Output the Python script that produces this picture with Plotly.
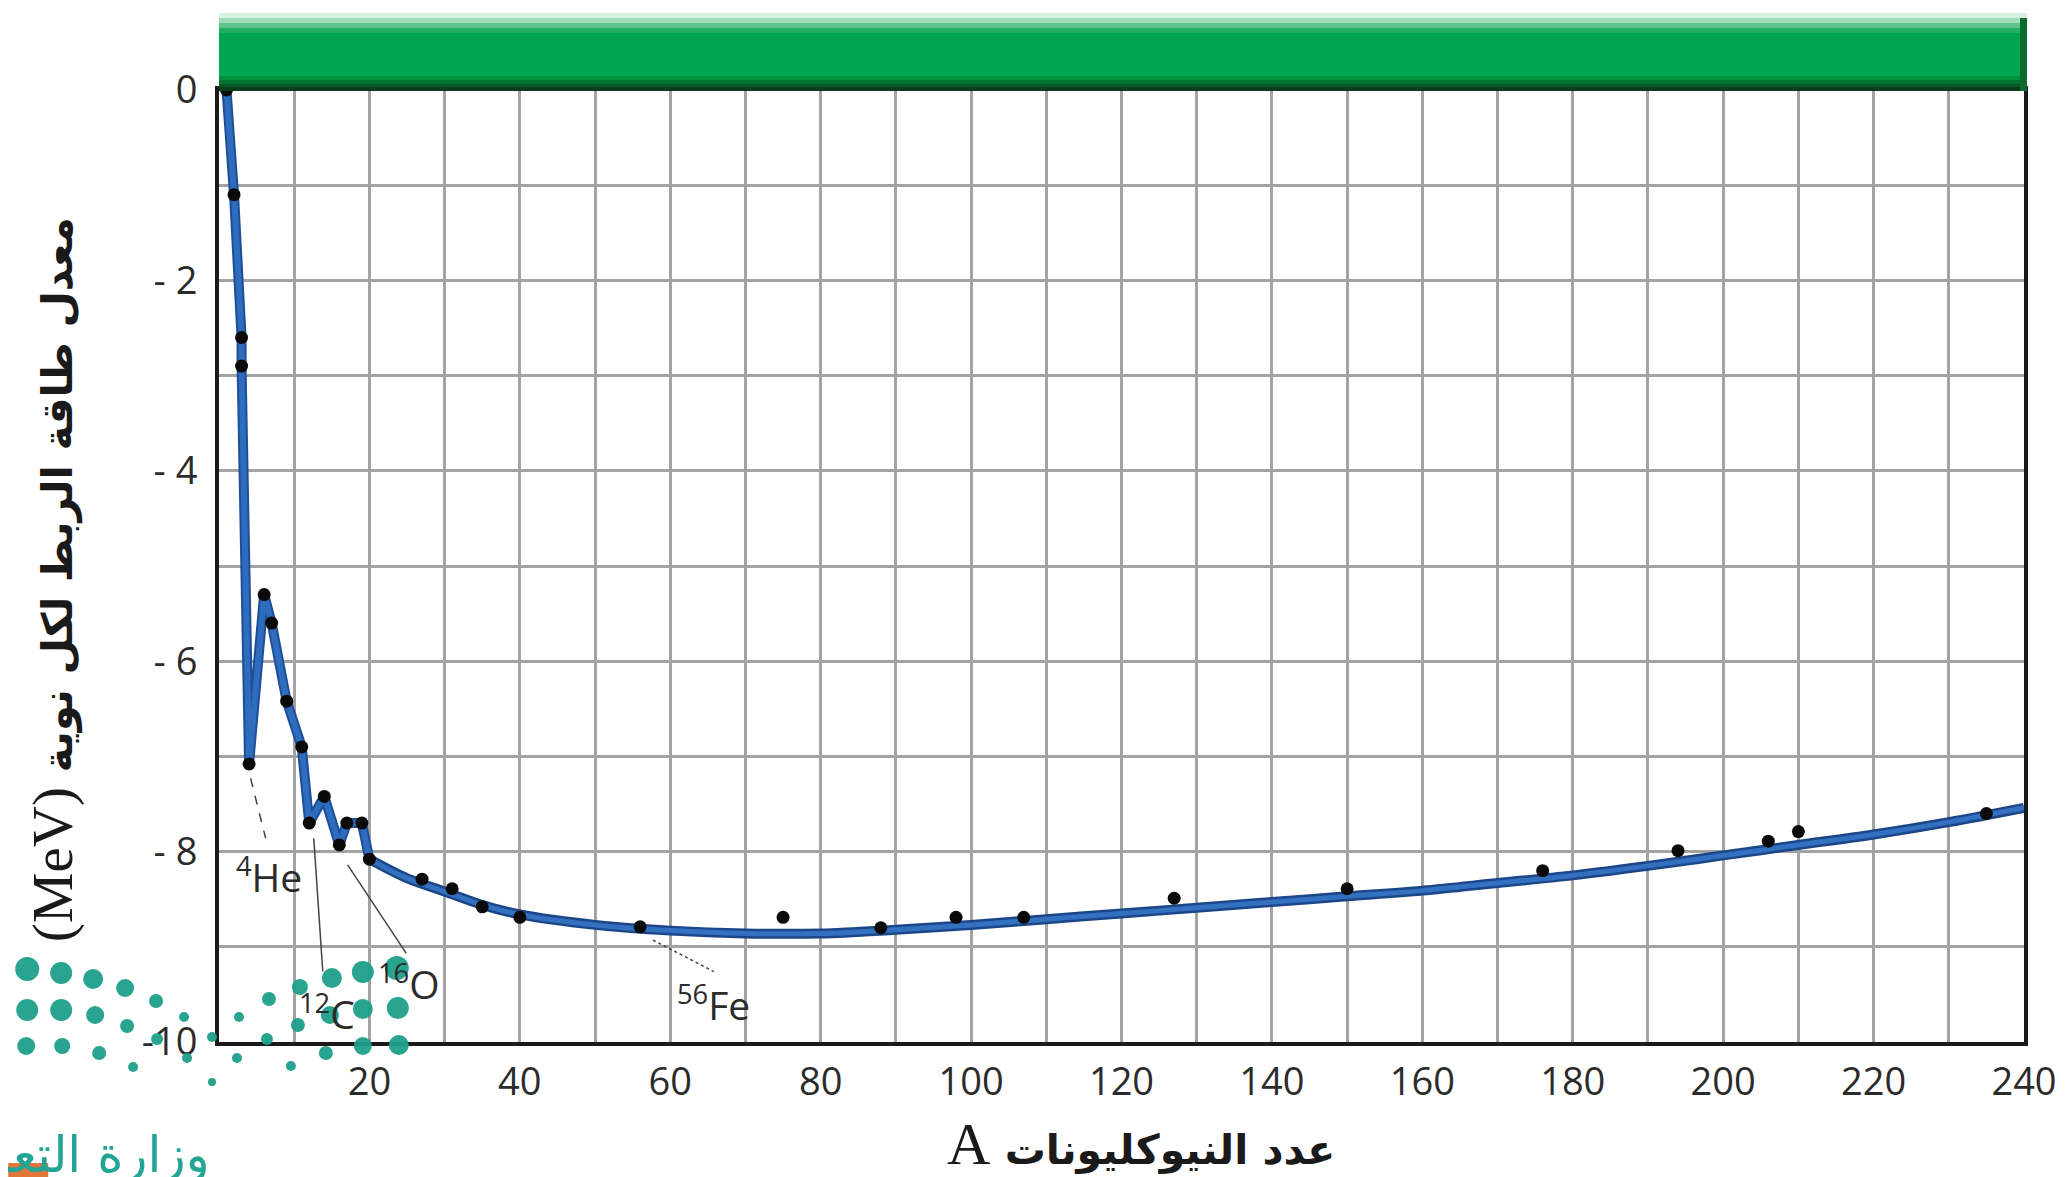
import plotly.graph_objects as go

# ---------------- data ----------------
# light nuclei (joined by the line)
light_A = [1, 2, 3, 3, 4, 6, 7, 9, 11, 12, 14, 16, 17, 19, 20]
light_E = [0.0, -1.1, -2.6, -2.9, -7.08, -5.3, -5.6, -6.42, -6.9, -7.7, -7.42, -7.93, -7.7, -7.7, -8.08]

# heavier nuclei (dots only)
heavy_A = [27, 31, 35, 40, 56, 75, 88, 98, 107, 127, 150, 176, 194, 206, 210, 235]
heavy_E = [-8.29, -8.39, -8.58, -8.69, -8.79, -8.69, -8.80, -8.69, -8.69, -8.49,
           -8.39, -8.20, -7.99, -7.89, -7.79, -7.60]

# smooth trend curve
curve_A = [20, 25, 30, 35, 40, 50, 60, 70, 80, 90, 100, 110, 120, 130, 140,
           150, 160, 170, 180, 190, 200, 210, 220, 230, 240]
curve_E = [-8.08, -8.28, -8.42, -8.56, -8.66, -8.77, -8.83, -8.86, -8.86, -8.82,
           -8.77, -8.71, -8.65, -8.59, -8.53, -8.47, -8.41, -8.33, -8.25, -8.15,
           -8.04, -7.93, -7.82, -7.69, -7.54]

# nuclide labels
label_text = ["<sup>4</sup>He", "<sup>12</sup>C", "<sup>16</sup>O", "<sup>56</sup>Fe"]
label_A = [6.7, 14.4, 25.2, 65.8]
label_E = [-8.25, -9.68, -9.37, -9.59]

# tick labels
x_tickvals = [20, 40, 60, 80, 100, 120, 140, 160, 180, 200, 220, 240]
x_ticktext = ["20", "40", "60", "80", "100", "120", "140", "160", "180", "200", "220", "240"]
x_minorvals = [10, 30, 50, 70, 90, 110, 130, 150, 170, 190, 210, 230]
y_tickvals = [0, -2, -4, -6, -8, -10]
y_ticktext = ["0", "- 2", "- 4", "- 6", "- 8", "-10"]
y_minorvals = [-1, -3, -5, -7, -9]

y_title = ('<span style="font-family:\'Liberation Serif\';font-size:57px;font-weight:normal">(MeV)</span>'
           ' معدل طاقة الربط لكل نوية')
x_title = ('<span style="font-family:\'Liberation Serif\';font-size:60px;font-weight:normal">A</span>'
           ' عدد النيوكليونات')

# ---------------- layout geometry ----------------
OFF = 8  # page body margin
W, H = 2069 - OFF, 1177 - OFF
L, R, T, B = 219 - OFF, 43, 90 - OFF, 135
PW, PH = W - L - R, H - T - B


def px(xp):
    return (xp - OFF - L) / PW


def py(yp):
    return (H - B - (yp - OFF)) / PH


fig = go.Figure()

# trend line (dark outer + lighter core)
fig.add_trace(go.Scatter(x=light_A, y=light_E, mode="lines",
                         line=dict(color="#1d4f99", width=10), hoverinfo="skip"))
fig.add_trace(go.Scatter(x=light_A, y=light_E, mode="lines",
                         line=dict(color="#2e6cbd", width=6), hoverinfo="skip"))
fig.add_trace(go.Scatter(x=curve_A, y=curve_E, mode="lines",
                         line=dict(color="#1b4688", width=10, shape="spline"), hoverinfo="skip"))
fig.add_trace(go.Scatter(x=curve_A, y=curve_E, mode="lines",
                         line=dict(color="#3470c0", width=5, shape="spline"), hoverinfo="skip"))

# data dots
fig.add_trace(go.Scatter(x=light_A + heavy_A, y=light_E + heavy_E, mode="markers",
                         marker=dict(color="#0a0a0a", size=13), cliponaxis=False))

shapes = []
# green band above the plot
band = [
    (13, 18, "#d8f1e3"), (18, 23, "#9fdcb8"), (23, 28, "#5cc58a"), (28, 33, "#22af64"),
    (33, 76, "#00a551"), (76, 80, "#00913f"), (80, 84, "#007532"),
    (84, 87, "#0b5a26"), (87, 91, "#0a3d19"),
]
for y0p, y1p, c in band:
    shapes.append(dict(type="rect", xref="paper", yref="paper",
                       x0=px(219), x1=px(2029), y0=py(y1p), y1=py(y0p),
                       fillcolor=c, line_width=0, layer="above"))
shapes.append(dict(type="rect", xref="paper", yref="paper",
                   x0=px(2022), x1=px(2029), y0=py(91), y1=py(18),
                   fillcolor="#0b6a2e", line_width=0, layer="above"))

# leader lines for labels
leaders = [
    (4.2, -7.23, 6.2, -7.86, "dash"),
    (12.6, -7.86, 13.8, -9.26, "solid"),
    (17.1, -8.14, 24.9, -9.07, "solid"),
    (57.7, -8.93, 65.8, -9.26, "dot"),
]
for x0, y0, x1, y1, d in leaders:
    shapes.append(dict(type="line", xref="x", yref="y", x0=x0, y0=y0, x1=x1, y1=y1,
                       line=dict(color="#444444", width=1.5, dash=d), layer="above"))

# watermark logo dots (decoration)
logo_dots = [
    (27, 969, 12), (61, 973, 11), (93, 979, 10), (125, 988, 9), (156, 1001, 7),
    (184, 1017, 5), (212, 1037, 5), (27, 1010, 11), (61, 1010, 11), (95, 1015, 9),
    (127, 1026, 7), (157, 1039, 6), (187, 1058, 5), (212, 1082, 4), (26, 1046, 9),
    (62, 1046, 8), (99, 1053, 7), (133, 1067, 5),
    (397, 968, 12), (363, 972, 11), (332, 978, 10), (300, 987, 8), (269, 999, 7),
    (239, 1017, 5), (398, 1008, 11), (363, 1009, 10), (330, 1015, 9), (298, 1025, 7),
    (267, 1039, 6), (237, 1058, 5), (399, 1045, 10), (363, 1046, 9), (326, 1053, 7),
    (291, 1066, 5),
]
for cx, cy, r in logo_dots:
    shapes.append(dict(type="circle", xref="paper", yref="paper",
                       x0=px(cx - r), x1=px(cx + r), y0=py(cy + r), y1=py(cy - r),
                       fillcolor="#1e9f8b", line_width=0, opacity=0.95, layer="above"))
shapes.append(dict(type="rect", xref="paper", yref="paper",
                   x0=px(8), x1=px(48), y0=py(1177), y1=py(1163),
                   fillcolor="#e0763a", line_width=0, layer="above"))

annotations = []
for t, a, e in zip(label_text, label_A, label_E):
    annotations.append(dict(x=a, y=e, xref="x", yref="y", text=t, showarrow=False,
                            xanchor="center", yanchor="middle",
                            font=dict(family="Open Sans", size=39, color="#2b2b2b")))
annotations.append(dict(x=px(53), y=py(580), xref="paper", yref="paper", text=y_title,
                        textangle=-90, showarrow=False, xanchor="center", yanchor="middle",
                        font=dict(family="DejaVu Sans", size=42, color="#1a1a1a", weight="bold")))
annotations.append(dict(x=px(1142), y=py(1144), xref="paper", yref="paper", text=x_title,
                        showarrow=False, xanchor="center", yanchor="middle",
                        font=dict(family="DejaVu Sans", size=41, color="#1a1a1a", weight="bold")))
annotations.append(dict(x=px(212), y=py(1124), xref="paper", yref="paper",
                        text="وزارة التعليم", showarrow=False, xanchor="right", yanchor="top",
                        font=dict(family="DejaVu Sans", size=50, color="#22a594")))

grid = dict(showgrid=True, gridcolor="#a3a3a3", gridwidth=2.5)

fig.update_layout(
    width=W, height=H,
    margin=dict(l=L, r=R, t=T, b=B, pad=0),
    paper_bgcolor="white", plot_bgcolor="white",
    showlegend=False,
    shapes=shapes, annotations=annotations,
    xaxis=dict(range=[0, 240], tickmode="array", tickvals=x_tickvals, ticktext=x_ticktext,
               minor=dict(tickmode="array", tickvals=x_minorvals, ticks="", **grid),
               showline=True, linecolor="#1a1a1a", linewidth=4, mirror=True,
               ticks="", ticklabelstandoff=3, zeroline=False, **grid,
               tickfont=dict(family="Open Sans", size=38, color="#2b2b2b")),
    yaxis=dict(range=[-10, 0], tickmode="array", tickvals=y_tickvals, ticktext=y_ticktext,
               minor=dict(tickmode="array", tickvals=y_minorvals, ticks="", **grid),
               showline=True, linecolor="#1a1a1a", linewidth=4, mirror=True,
               ticks="", ticklabelstandoff=10, zeroline=False, **grid,
               tickfont=dict(family="Open Sans", size=38, color="#2b2b2b")),
)

fig.write_html("out.html")
